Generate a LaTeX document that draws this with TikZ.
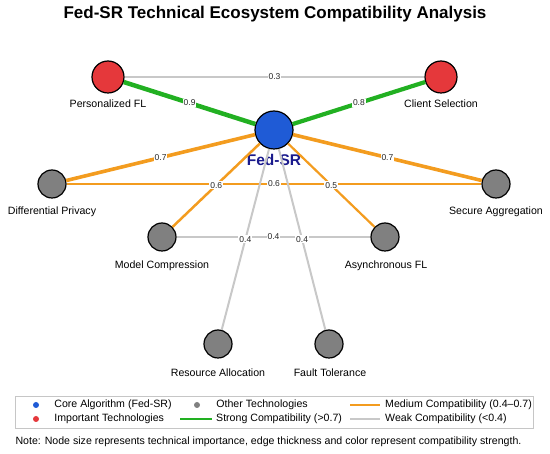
\documentclass[tikz,border=0pt]{standalone}
\usepackage{fontspec}
\setmainfont{Liberation Sans}
\usetikzlibrary{positioning}

\definecolor{coreblue}{HTML}{1F5BD6}
\definecolor{imptred}{HTML}{E5383B}
\definecolor{othergray}{HTML}{808080}
\definecolor{stronggreen}{HTML}{22B022}
\definecolor{medorange}{HTML}{F39C1F}
\definecolor{weakgray}{HTML}{C8C8C8}
\definecolor{fedlabel}{HTML}{1A1A8C}

\tikzset{
  tech/.style={circle, draw=black, line width=1.2pt, inner sep=0pt},
  coretech/.style={tech, fill=coreblue, minimum size=38pt},
  imptech/.style={tech, fill=imptred, minimum size=32pt},
  othtech/.style={tech, fill=othergray, minimum size=28pt},
  techlabel/.style={font=\fontsize{10.6}{12}\selectfont},
  weight/.style={fill=white, text=black!85, inner sep=1pt, font=\fontsize{8.5}{10}\selectfont},
  strong/.style={stronggreen},
  medium/.style={medorange},
  weak/.style={weakgray},
  legtext/.style={inner sep=0pt, font=\fontsize{10.6}{12}\selectfont},
  legdot/.style={circle, inner sep=0pt, minimum size=6pt},
}

\begin{document}
\begin{tikzpicture}[x=1pt,y=-1pt]
  \useasboundingbox (0,0) rectangle (550,454);

  \node[font=\bfseries\fontsize{17}{20}\selectfont] (Title) at (275,14)
    {Fed-SR Technical Ecosystem Compatibility Analysis};

  % technologies
  \node[coretech] (FedSR) at (274,130) {};
  \node[imptech] (PersFL) at (108,77) {};
  \node[imptech] (ClientSel) at (441,77) {};
  \node[othtech] (DiffPriv) at (52,184) {};
  \node[othtech] (SecAgg) at (496,184) {};
  \node[othtech] (ModComp) at (162,237) {};
  \node[othtech] (AsyncFL) at (385,237) {};
  \node[othtech] (ResAlloc) at (218,344) {};
  \node[othtech] (FaultTol) at (329,344) {};

  \node[font=\bfseries\fontsize{15.5}{18}\selectfont, text=fedlabel] (FedSRLabel) at (274,160) {Fed-SR};
  \node[techlabel] (PersFLLabel) at (108,104) {Personalized FL};
  \node[techlabel] (ClientSelLabel) at (441,104) {Client Selection};
  \node[techlabel] (DiffPrivLabel) at (52,212) {Differential Privacy};
  \node[techlabel] (SecAggLabel) at (496,212) {Secure Aggregation};
  \node[techlabel] (ModCompLabel) at (162,266) {Model Compression};
  \node[techlabel] (AsyncFLLabel) at (386,266) {Asynchronous FL};
  \node[techlabel] (ResAllocLabel) at (218,373) {Resource Allocation};
  \node[techlabel] (FaultTolLabel) at (330,373) {Fault Tolerance};

  % compatibility edges
  \draw[weak, line width=1.2pt] (PersFL) -- (ClientSel) node[weight, midway] {0.3};
  \draw[strong, line width=4.5pt] (FedSR) -- (PersFL) node[weight, midway] {0.9};
  \draw[strong, line width=4.2pt] (FedSR) -- (ClientSel) node[weight, midway] {0.8};
  \draw[medium, line width=3.6pt] (FedSR) -- (DiffPriv) node[weight, midway] {0.7};
  \draw[medium, line width=3.6pt] (FedSR) -- (SecAgg) node[weight, midway] {0.7};
  \draw[medium, line width=2.2pt] (DiffPriv) -- (SecAgg) node[weight, midway] {0.6};
  \draw[weak, line width=1.3pt] (ModComp) -- (AsyncFL) node[weight, midway] {0.4};
  \draw[medium, line width=2.5pt] (FedSR) -- (ModComp) node[weight, midway] {0.6};
  \draw[medium, line width=2.2pt] (FedSR) -- (AsyncFL) node[weight, midway] {0.5};
  \draw[weak, line width=2pt] (FedSR) -- (ResAlloc) node[weight, midway] {0.4};
  \draw[weak, line width=2pt] (FedSR) -- (FaultTol) node[weight, midway] {0.4};

  % legend
  \draw[gray!45, line width=0.8pt, fill=white] (15,396) rectangle (533,428);
  \node[legdot, fill=coreblue] (LgCore) at (36,405) {};
  \node[legdot, fill=imptred] (LgImpt) at (36,419) {};
  \node[legdot, fill=othergray] (LgOther) at (197,405) {};
  \node[legtext, right=15pt of LgCore] (LgCoreText) {Core Algorithm (Fed-SR)};
  \node[legtext, right=15pt of LgImpt] (LgImptText) {Important Technologies};
  \node[legtext, right=16pt of LgOther] (LgOtherText) {Other Technologies};

  \coordinate (LgStrongA) at (180,419);
  \coordinate (LgStrongB) at (212,419);
  \coordinate (LgMedA) at (350,405);
  \coordinate (LgMedB) at (380,405);
  \coordinate (LgWeakA) at (350,419);
  \coordinate (LgWeakB) at (380,419);
  \draw[strong, line width=2pt] (LgStrongA) -- (LgStrongB);
  \draw[medium, line width=2pt] (LgMedA) -- (LgMedB);
  \draw[weak, line width=2pt] (LgWeakA) -- (LgWeakB);
  \node[legtext, right=4pt of LgStrongB] (LgStrongText) {Strong Compatibility (>0.7)};
  \node[legtext, right=5pt of LgMedB] (LgMedText) {Medium Compatibility (0.4--0.7)};
  \node[legtext, right=5pt of LgWeakB] (LgWeakText) {Weak Compatibility (<0.4)};

  \node[font=\fontsize{10.6}{12}\selectfont] (Note) at (268.5,442)
    {Note: Node size represents technical importance, edge thickness and color represent compatibility strength.};
\end{tikzpicture}
\end{document}
